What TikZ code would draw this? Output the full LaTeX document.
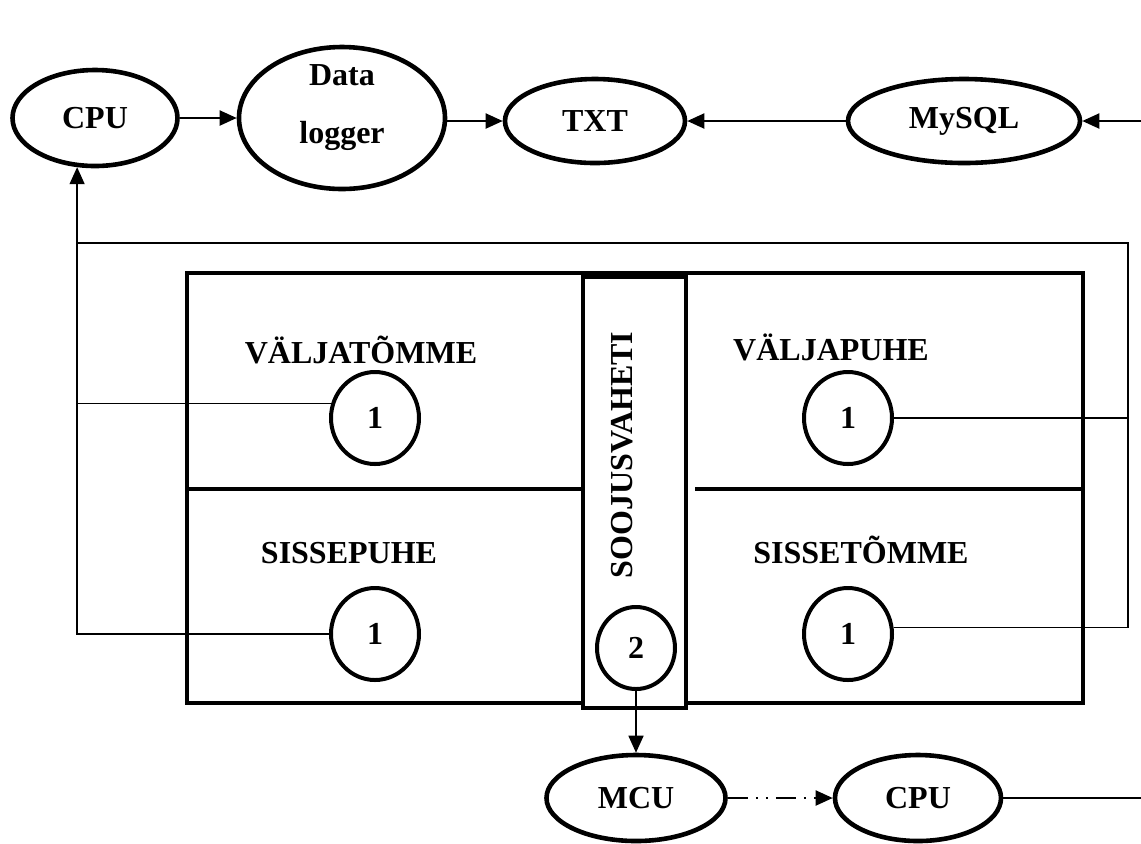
\documentclass[tikz,border=0pt]{standalone}
\usepackage{fontspec}
\setmainfont{Liberation Serif}
\usetikzlibrary{shapes.geometric, arrows.meta, positioning, calc}

\begin{document}
\begin{tikzpicture}[x=0.5pt, y=-0.5pt,
    every node/.style={font=\fontsize{16}{27}\selectfont\bfseries},
    unit/.style={ellipse, draw, line width=2.3pt, inner sep=0pt},
    pump/.style={ellipse, draw, line width=2pt, minimum width=44pt,
                 minimum height=46pt, inner sep=0pt},
    wall/.style={draw, line width=1.6pt},
    wire/.style={line width=0.7pt},
    arr/.style={-{Triangle[length=8.5pt, width=7.5pt]}, line width=1pt}
]
    \useasboundingbox (0,0) rectangle (1141,843);

    % andmete rada
    \node[unit, minimum width=82.5pt, minimum height=48pt] (cpu) at (95,118) {CPU};
    \node[unit, minimum width=103pt, minimum height=71pt] (logger) at (342,118)
        {\raisebox{3pt}[0pt][0pt]{\begin{tabular}{@{}c@{}}Data\\[2pt]logger\end{tabular}}};
    \node[unit, minimum width=90pt, minimum height=42pt] (txt) at (595,121) {TXT};
    \node[unit, minimum width=116pt, minimum height=42pt] (mysql) at (964,121) {MySQL};
    \coordinate (inR) at (1141,121);
    \draw[arr] (cpu) -- (cpu -| logger.west);
    \draw[arr] (logger.east |- txt) -- (txt);
    \draw[arr] (mysql) -- (txt);
    \draw[arr] (inR) -- (mysql);

    % seade
    \draw[wall] (187,273) rectangle (1083,703);
    \node[wall, fill=white, inner sep=0pt, minimum width=51.5pt, minimum height=215.5pt] (col) at (634.5,492.5) {};
    \draw[wall] (187,489) -- (col.west |- 0,489);
    \draw[wall] (695,489) -- (1083,489);

    \node (ltop) at (361,350) {VÄLJATÕMME};
    \node (lbot) at (349,553) {SISSEPUHE};
    \node (rtop) at (831,347) {VÄLJAPUHE};
    \node (rbot) at (861,550) {SISSETÕMME};
    \node[rotate=90] (hx) at (622,455) {SOOJUSVAHETI};

    \node[pump] (pTL) at (375,418) {1};
    \node[pump] (pBL) at (375,634) {1};
    \node[pump] (pTR) at (848,418) {1};
    \node[pump] (pBR) at (848,634) {1};
    \node[pump, minimum width=39pt, minimum height=41pt] (pHX) at (636,648) {2};

    % tagasiside
    \coordinate (busE) at (1128,243);
    \draw[arr, line width=0.7pt] (pBL.west) -| (cpu.250);
    \draw[wire] (pTL.162) -- (pTL.162 -| cpu.250);
    \draw[wire] (pBR.8) -| (busE) -- (busE -| cpu.250);
    \draw[wire] (pTR.east) -- (pTR.east -| busE);

    % juhtimine
    \node[unit, minimum width=89.5pt, minimum height=43pt] (mcu) at (636,798) {MCU};
    \node[unit, minimum width=83pt, minimum height=43pt] (cpuB) at (918,798) {CPU};
    \coordinate (outR) at (1141,798);
    \draw[arr, line width=0.8pt] (pHX) -- (mcu);
    \draw[arr, dash pattern=on 10pt off 4pt on 1pt off 4pt on 1pt off 4pt] (mcu) -- (cpuB);
    \draw[wire] (cpuB) -- (outR);
\end{tikzpicture}
\end{document}
